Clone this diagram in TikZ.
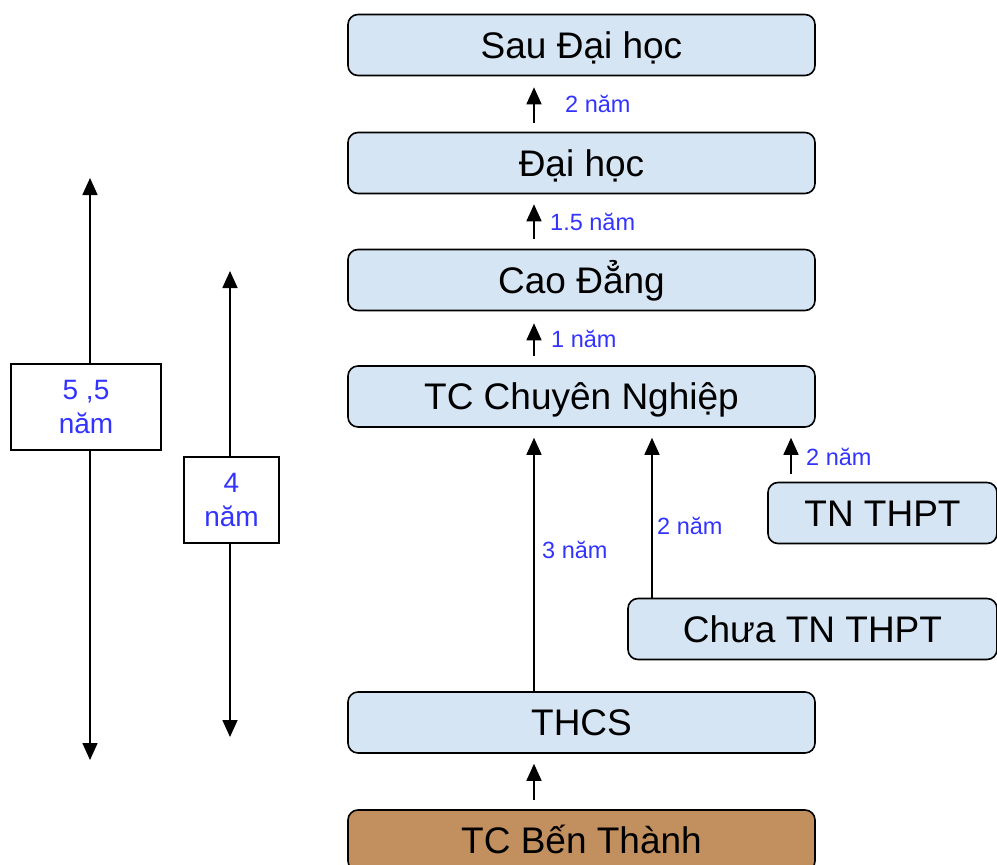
\documentclass[tikz,border=0pt]{standalone}
\usepackage{fontspec}
\setmainfont{Liberation Sans}
\usetikzlibrary{arrows.meta}
\definecolor{boxblue}{RGB}{214,229,244}
\definecolor{boxbrown}{RGB}{194,143,95}
\definecolor{lblue}{RGB}{51,51,255}
\begin{document}
\begin{tikzpicture}[x=1pt,y=-1pt,
  lvl/.style={draw=black,line width=1.6pt,rounded corners=10pt,fill=boxblue,
    minimum width=467pt,minimum height=61pt,inner sep=0pt,
    font=\fontsize{37}{44}\selectfont,text height=26.5pt,text depth=0pt},
  yr/.style={inner sep=0pt,anchor=west,text=lblue,font=\fontsize{23.5}{28}\selectfont,text height=17pt,text depth=0pt},
  sidebox/.style={draw=black,line width=1.6pt,fill=white,minimum height=86pt,inner sep=0pt,
    align=center,text=lblue,font=\fontsize{28}{34}\selectfont},
  arr/.style={line width=1.6pt,-{Triangle[width=15pt,length=17pt]}}]
\useasboundingbox (0,0) rectangle (997,865);

% main column
\node[lvl] (sau) at (581.5,45) {Sau Đại học};
\node[lvl] (dh) at (581.5,163) {Đại học};
\node[lvl] (cd) at (581.5,280) {Cao Đẳng};
\node[lvl] (tc) at (581.5,396.5) {TC Chuyên Nghiệp};
\node[lvl] (thcs) at (581.5,722.5) {THCS};
\node[lvl,fill=boxbrown] (ben) at (581.5,840.5) {TC Bến Thành};
\node[lvl,minimum width=229pt] (tn) at (882.5,513) {TN THPT};
\node[lvl,minimum width=369pt] (chua) at (812.5,629) {Chưa TN THPT};

% x positions of connectors
\coordinate (xa) at (534,0);
\coordinate (xb) at (652,0);
\coordinate (xc) at (791,0);

\draw[arr,shorten <=9pt,shorten >=11pt] (dh.north -| xa) -- (sau.south -| xa);
\draw[arr,shorten <=10pt,shorten >=10pt] (cd.north -| xa) -- (dh.south -| xa);
\draw[arr,shorten <=9pt,shorten >=12pt] (tc.north -| xa) -- (cd.south -| xa);
\draw[arr,shorten >=10pt] (thcs.north -| xa) -- (tc.south -| xa);
\draw[arr,shorten >=10pt] (chua.north -| xb) -- (tc.south -| xb);
\draw[arr,shorten <=8pt,shorten >=10pt] (tn.north -| xc) -- (tc.south -| xc);
\draw[arr,shorten <=9pt,shorten >=10pt] (ben.north -| xa) -- (thcs.south -| xa);

\node[yr] (l1) at (565,104) {2 năm};
\node[yr] (l2) at (550,222) {1.5 năm};
\node[yr] (l3) at (551,339) {1 năm};
\node[yr] (l4) at (542,550) {3 năm};
\node[yr] (l5) at (657,526) {2 năm};
\node[yr] (l6) at (806,457) {2 năm};

% left duration arrows
\coordinate (t1) at (90,178);
\coordinate (b1) at (90,760);
\coordinate (t2) at (230,271);
\coordinate (b2) at (230,737);
\node[sidebox,minimum width=150pt] (s55) at (86,407) {5 ,5\\năm};
\node[sidebox,minimum width=95pt] (s4) at (231.5,500) {4\\năm};
\draw[arr] (s55.north -| t1) -- (t1);
\draw[arr] (s55.south -| b1) -- (b1);
\draw[arr] (s4.north -| t2) -- (t2);
\draw[arr] (s4.south -| b2) -- (b2);
\end{tikzpicture}
\end{document}
